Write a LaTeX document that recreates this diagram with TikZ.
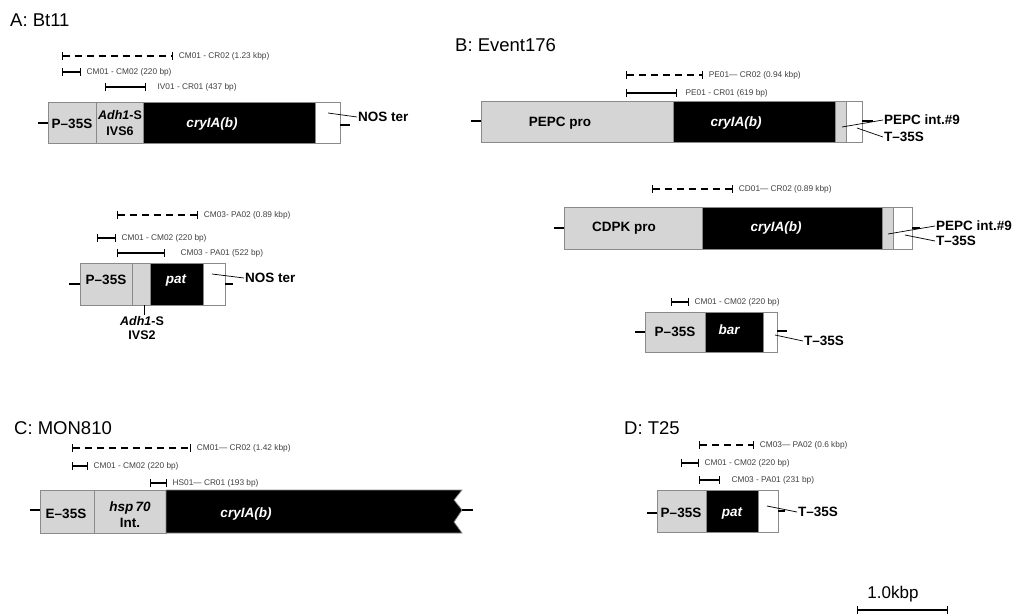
\documentclass[tikz,border=0pt]{standalone}
\usepackage{fontspec}
\setmainfont{Liberation Sans}
\usetikzlibrary{arrows.meta}
\definecolor{lgray}{HTML}{D5D5D5}
\definecolor{edge}{HTML}{8A8A8A}
\tikzset{
  seg/.style={draw=edge, line width=0.7pt},
  pro/.style={seg, fill=lgray},
  gene/.style={seg, fill=black},
  ter/.style={seg, fill=white},
  stub/.style={line width=1.6pt},
  ptr/.style={line width=0.7pt},
  ttl/.style={anchor=west, inner sep=0pt, font=\fontsize{18.5}{21}\selectfont},
  lbl/.style={inner sep=1pt, font=\fontsize{13.5}{16}\selectfont\bfseries},
  glbl/.style={lbl, text=white, font=\fontsize{13.5}{16}\selectfont\bfseries\itshape},
  plab/.style={anchor=west, inner sep=0pt, xshift=5pt, text=black!75, font=\fontsize{8.3}{10}\selectfont},
  amp/.style={line width=1.3pt, {Bar[width=8pt,line width=1.3pt]}-{Bar[width=8pt,line width=1.3pt]}},
  ampd/.style={amp, line width=1.8pt, dash pattern=on 7pt off 5pt},
}
\begin{document}
\begin{tikzpicture}[x=1pt, y=-1pt]
\useasboundingbox (0,0) rectangle (1023,615);

\node[ttl] (ttlA) at (10,20) {A: Bt11};
\draw[ampd] (62,56) -- (173,56) node[plab] (pA1) {CM01 - CR02 (1.23 kbp)};
\draw[amp] (62,72) -- (81,72) node[plab] (pA2) {CM01 - CM02 (220 bp)};
\draw[amp] (105,87) -- (146,87) node[plab, xshift=6pt] (pA3) {IV01 - CR01 (437 bp)};
\draw[pro] (48,102) rectangle (96,143);
\draw[pro] (96,102) rectangle (143,143);
\draw[gene] (143,102) rectangle (315,143);
\draw[ter] (315,102) rectangle (340,143);
\draw[stub] (38,123) -- (48,123);
\draw[stub] (340,125) -- (350,125);
\node[lbl] (aP) at (72,124) {P--35S};
\node[lbl, align=center, font=\fontsize{12.5}{16}\selectfont\bfseries] (aAdh) at (120,123) {{\itshape Adh1}-S\\IVS6};
\node[glbl] (aCry) at (212,124) {cryIA(b)};
\coordinate (aNosIn) at (328,113);
\node[lbl, anchor=west] (aNos) at (357,117) {NOS ter};
\draw[ptr] (aNosIn) -- (aNos.west);

\draw[ampd] (117,215) -- (198,215) node[plab] (pA4) {CM03- PA02 (0.89 kbp)};
\draw[amp] (97,238) -- (116,238) node[plab] (pA5) {CM01 - CM02 (220 bp)};
\draw[amp] (117,253) -- (165,253) node[plab, xshift=10pt] (pA6) {CM03 - PA01 (522 bp)};
\draw[pro] (80,263) rectangle (132,305);
\draw[pro] (132,263) rectangle (150,305);
\draw[gene] (150,263) rectangle (203,305);
\draw[ter] (203,263) rectangle (225,305);
\draw[stub] (69,284) -- (80,284);
\draw[stub] (225,284) -- (233,284);
\node[lbl] (bP) at (106,280) {P--35S};
\node[glbl] (bPat) at (176,280) {pat};
\coordinate (bAdhIn) at (144,305);
\node[lbl, align=center, anchor=north, font=\fontsize{12.5}{14}\selectfont\bfseries] (bAdh) at (142,315) {{\itshape Adh1}-S\\IVS2};
\draw[ptr] (bAdhIn) -- (bAdh.north -| bAdhIn);
\coordinate (bNosIn) at (212,274);
\node[lbl, anchor=west] (bNos) at (244,278) {NOS ter};
\draw[ptr] (bNosIn) -- (bNos.west);

\node[ttl] (ttlB) at (455,45) {B: Event176};
\draw[ampd] (626,75) -- (703,75) node[plab] (pB1) {PE01--- CR02 (0.94 kbp)};
\draw[amp] (626,93) -- (677,93) node[plab, xshift=3pt] (pB2) {PE01 - CR01 (619 bp)};
\draw[pro] (481,101) rectangle (673,142);
\draw[gene] (673,101) rectangle (835,142);
\draw[pro] (835,101) rectangle (846,142);
\draw[ter] (846,101) rectangle (862,142);
\draw[stub] (471,121) -- (481,121);
\draw[stub] (862,121) -- (873,121);
\node[lbl] (cPro) at (560,123) {PEPC pro};
\node[glbl] (cCry) at (736,123) {cryIA(b)};
\coordinate (cIntIn) at (842,127);
\node[lbl, anchor=west] (cInt) at (883,120) {PEPC int.\#9};
\draw[ptr] (cIntIn) -- (cInt.west);
\coordinate (cTIn) at (857,128);
\node[lbl, anchor=west] (cT) at (883,137) {T--35S};
\draw[ptr] (cTIn) -- (cT.west);

\draw[ampd] (652,189) -- (733,189) node[plab] (pB3) {CD01--- CR02 (0.89 kbp)};
\draw[pro] (564,207) rectangle (702,249);
\draw[gene] (702,207) rectangle (882,249);
\draw[pro] (882,207) rectangle (893,249);
\draw[ter] (893,207) rectangle (912,249);
\draw[stub] (554,228) -- (564,228);
\draw[stub] (912,228) -- (920,228);
\node[lbl] (dPro) at (624,228) {CDPK pro};
\node[glbl] (dCry) at (776,228) {cryIA(b)};
\coordinate (dIntIn) at (888,234);
\node[lbl, anchor=west] (dInt) at (935,226) {PEPC int.\#9};
\draw[ptr] (dIntIn) -- (dInt.west);
\coordinate (dTIn) at (905,235);
\node[lbl, anchor=west] (dT) at (935,241) {T--35S};
\draw[ptr] (dTIn) -- (dT.west);

\draw[amp] (671,302) -- (689,302) node[plab] (pB4) {CM01 - CM02 (220 bp)};
\draw[pro] (645,312) rectangle (705,352);
\draw[gene] (705,312) rectangle (763,352);
\draw[ter] (763,312) rectangle (777,352);
\draw[stub] (635,332) -- (645,332);
\draw[stub] (777,331) -- (787,331);
\node[lbl] (eP) at (675,332) {P--35S};
\node[glbl] (eBar) at (729,330) {bar};
\coordinate (eTIn) at (775,335);
\node[lbl, anchor=west] (eT) at (803,341) {T--35S};
\draw[ptr] (eTIn) -- (eT.west);

\node[ttl] (ttlC) at (14,428) {C: MON810};
\draw[ampd] (72,448) -- (191,448) node[plab] (pC1) {CM01--- CR02 (1.42 kbp)};
\draw[amp] (72,466) -- (88,466) node[plab] (pC2) {CM01 - CM02 (220 bp)};
\draw[amp] (150,483) -- (167,483) node[plab] (pC3) {HS01--- CR01 (193 bp)};
\draw[pro] (40,490) rectangle (94,533);
\draw[pro] (94,490) rectangle (166,533);
\draw[gene] (166,490) -- (462,490) -- (454,500) -- (462,510) -- (454,522) -- (462,533) -- (166,533) -- cycle;
\draw[stub] (30,510) -- (40,510);
\draw[stub] (462,510) -- (473,510);
\node[lbl] (fE) at (66,514) {E--35S};
\node[lbl, align=center] (fHsp) at (130,515) {{\itshape hsp\,70}\\Int.};
\node[glbl] (fCry) at (246,514) {cryIA(b)};

\node[ttl] (ttlD) at (624,428) {D: T25};
\draw[ampd] (699,445) -- (754,445) node[plab] (pD1) {CM03--- PA02 (0.6 kbp)};
\draw[amp] (681,463) -- (699,463) node[plab] (pD2) {CM01 - CM02 (220 bp)};
\draw[amp] (699,480) -- (720,480) node[plab, xshift=6pt] (pD3) {CM03 - PA01 (231 bp)};
\draw[pro] (657,490) rectangle (706,532);
\draw[gene] (706,490) rectangle (758,532);
\draw[ter] (758,490) rectangle (778,532);
\draw[stub] (647,513) -- (657,513);
\draw[stub] (778,511) -- (785,511);
\node[lbl] (gP) at (681,513) {P--35S};
\node[glbl] (gPat) at (732,513) {pat};
\coordinate (gTIn) at (767,506);
\node[lbl, anchor=west] (gT) at (797,512) {T--35S};
\draw[ptr] (gTIn) -- (gT.west);

\node[inner sep=1pt, font=\fontsize{17}{19}\selectfont] (kbp) at (893,594) {1.0kbp};
\draw[amp] (857,610) -- (948,610);
\end{tikzpicture}
\end{document}
